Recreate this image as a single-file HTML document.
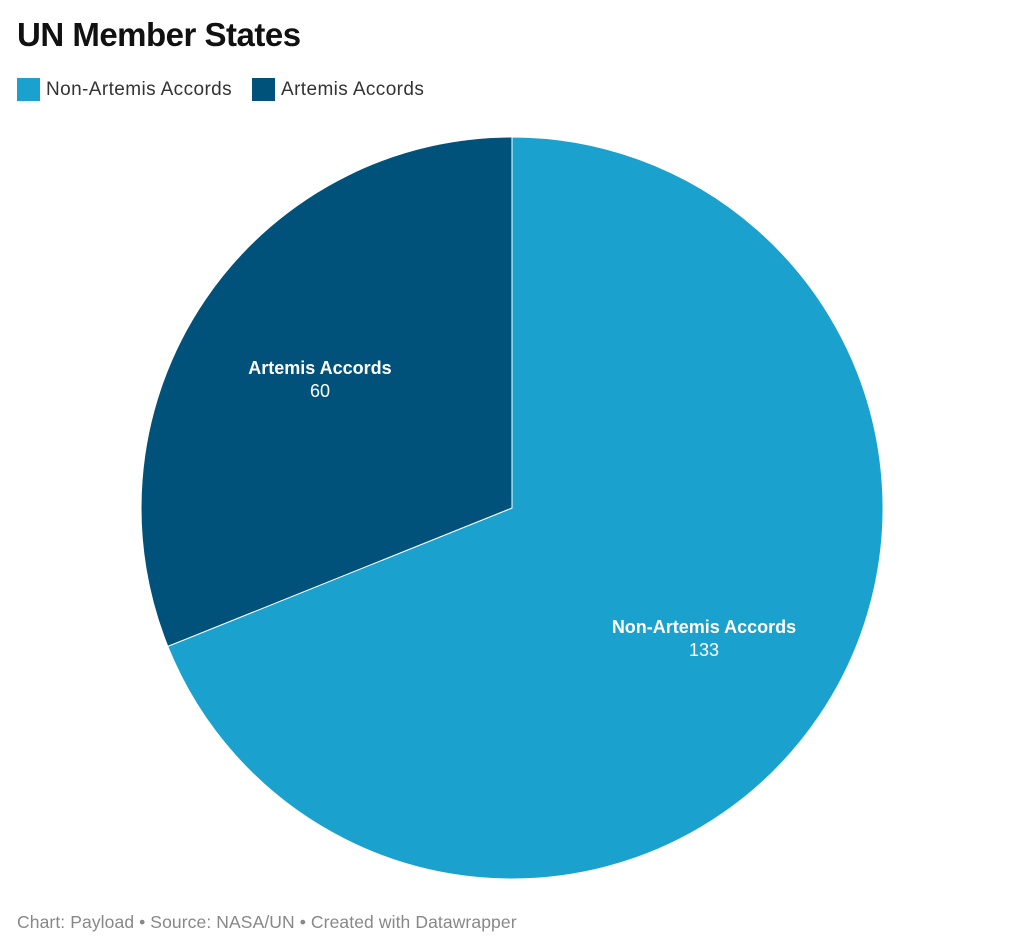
<!DOCTYPE html>
<html><head><style>
body{margin:0;background:#fff;width:1024px;height:951px;overflow:hidden;font-family:"Liberation Sans",sans-serif;}
.t{position:absolute;left:17px;top:16px;font-size:33px;font-weight:bold;color:#111;letter-spacing:-0.5px}
.lg{position:absolute;top:78px;font-size:19px;color:#333;display:flex;align-items:center;letter-spacing:0.4px}
.sw{width:23px;height:23px;display:inline-block;margin-right:6px}
.f{position:absolute;left:17px;top:912px;font-size:17.5px;color:#888;letter-spacing:0.1px}
</style></head><body>
<div class="t">UN Member States</div>
<div class="lg" style="left:17px"><span class="sw" style="background:#1aa1ce"></span>Non-Artemis Accords</div>
<div class="lg" style="left:252px"><span class="sw" style="background:#01527a"></span>Artemis Accords</div>
<svg width="1024" height="951" style="position:absolute;left:0;top:0">
<path d="M512,508 L512,137 A371,371 0 1 1 167.8,646.4 Z" fill="#1aa1ce" stroke="#fff" stroke-width="1"/>
<path d="M512,508 L167.8,646.4 A371,371 0 0 1 512,137 Z" fill="#01527a" stroke="#fff" stroke-width="1"/>
<g font-family="Liberation Sans, sans-serif" fill="#fff" text-anchor="middle" font-size="18">
<text x="320" y="374" font-weight="bold">Artemis Accords</text>
<text x="320" y="397">60</text>
<text x="704" y="633" font-weight="bold">Non-Artemis Accords</text>
<text x="704" y="656">133</text>
</g>
</svg>
<div class="f">Chart: Payload • Source: NASA/UN • Created with Datawrapper</div>
</body></html>
